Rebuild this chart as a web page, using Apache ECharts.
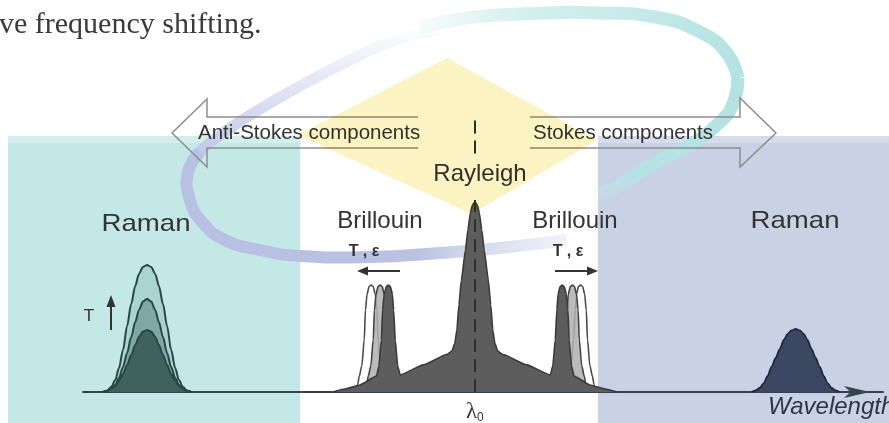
<!DOCTYPE html>
<html>
<head>
<meta charset="utf-8">
<script src="https://cdn.jsdelivr.net/npm/echarts@6/dist/echarts.min.js"></script>
<style>
  html, body { margin: 0; padding: 0; background: #ffffff; }
  #chart { width: 889px; height: 423px; }
</style>
</head>
<body>
<div id="chart"></div>
<script>
// Back-scattered spectrum around the launched wavelength λ0.
// x: wavelength offset from λ0 (arbitrary units), y: relative intensity (Rayleigh peak = 100).

// Rayleigh line with its broad pedestal and the innermost Brillouin lines
const rayleighX = [-34.8,-31.9,-28.2,-24.1,-23.5,-22.9,-22.6,-22.2,-21.7,-21.2,-20.7,-20.2,-19.9,-19.5,-18.9,-18.3,-12.6,
  -6.9,-5.6,-4.9,-4.4,-3.9,-3.3,-2.3,-1.7,-1.1,-0.6,0,0.6,1.1,1.7,2.3,3.3,3.9,4.4,4.9,5.6,6.9,
  12.7,18.5,19.1,19.7,20.1,20.4,20.9,21.4,21.9,22.4,22.8,23.1,23.7,24.3,28.2,31.9,34.8];
const rayleighY = [0,1.6,3.7,8.4,13.7,27.4,43.2,51.6,55.5,56.3,55.5,51.6,43.2,27.4,13.7,9.0,14.3,
  19.7,21.6,25.8,32.6,45.8,58.9,74.7,85.3,94.2,98.4,100,98.4,94.2,85.3,74.7,58.9,45.8,32.6,25.8,21.6,19.7,
  14.3,9.0,13.7,27.4,43.2,51.6,55.5,56.3,55.5,51.6,43.2,27.4,13.7,8.4,3.7,1.6,0];

// Brillouin lines shifted with temperature / strain (same profile, shifted centres)
const brillouinY = [0,4,8.4,13.7,27.4,43.2,51.6,55.5,56.3,55.5,51.6,43.2,27.4,13.7,8.4,4,0];
const brillouinAntiStokesMidX = [-26.7,-26.5,-26.1,-25.5,-24.9,-24.6,-24.2,-23.7,-23.2,-22.7,-22.2,-21.9,-21.5,-20.9,-20.3,-19.9,-19.7];
const brillouinAntiStokesFarX = [-28.9,-28.7,-28.3,-27.7,-27.1,-26.8,-26.4,-25.9,-25.4,-24.9,-24.4,-24.0,-23.7,-23.1,-22.5,-22.1,-21.9];
const brillouinStokesMidX = [20.4,20.6,21.0,21.6,22.2,22.6,22.9,23.4,23.9,24.4,24.9,25.3,25.6,26.2,26.8,27.2,27.4];
const brillouinStokesFarX = [22.4,22.6,23.0,23.6,24.2,24.6,24.9,25.4,25.9,26.4,26.9,27.3,27.6,28.2,28.8,29.2,29.4];

// Anti-Stokes Raman band at three temperatures
const ramanAntiStokesX = [-91.1,-90.1,-89.1,-88.1,-87.2,-86.2,-85.2,-84.2,-83.2,-82.3,-81.3,-80.3,
  -79.3,-78.3,-77.4,-76.4,-75.4,-74.4,-73.4,-72.5,-71.5,-70.5,-69.5];
const ramanAntiStokesHot  = [0,0.8,2.6,6.3,12.6,22.1,34.7,46.3,55.8,62.1,65.8,66.8,65.8,62.1,55.8,46.3,34.7,22.1,12.6,6.3,2.6,0.8,0];
const ramanAntiStokesWarm = [0,0.5,1.6,3.7,7.4,13.2,20.5,28.9,36.8,43.2,47.6,48.9,47.6,43.2,36.8,28.9,20.5,13.2,7.4,3.7,1.6,0.5,0];
const ramanAntiStokesCool = [0,0.5,1.6,3.2,5.8,9.5,14.2,19.5,24.7,29.0,31.8,32.6,31.8,29.0,24.7,19.5,14.2,9.5,5.8,3.2,1.6,0.5,0];

// Stokes Raman band
const ramanStokesX = [67.8,68.8,69.8,70.8,71.7,72.7,73.7,74.7,75.7,76.6,77.6,78.6,79.6,80.6,81.5,82.5,83.5,84.5,85.5,86.4,87.4,88.4,89.4];
const ramanStokesY = [0,0.8,2.1,4.7,8.4,13.2,17.9,22.6,27.4,30.5,32.4,33.2,32.4,30.5,27.4,22.6,17.9,13.2,8.4,4.7,2.1,0.8,0];

// Axis
const xMin = -96, xMax = 100, yMin = 0, yMax = 145;
const lambdaTicks = [0];

const SANS = "'Liberation Sans', Arial, sans-serif";
const TXT = '#333333';

function pairs(xs, ys) { return xs.map((x, i) => [x, ys[i]]); }
function peak(name, xs, ys, fill, stroke, z, width, smooth) {
  return {
    name, type: 'line', data: pairs(xs, ys), symbol: 'none', silent: true,
    smooth: smooth == null ? 0.3 : smooth, smoothMonotone: 'x', z,
    lineStyle: { color: stroke, width: width || 1.6 },
    areaStyle: { color: fill, opacity: 1 }
  };
}

const chart = echarts.init(document.getElementById('chart'), null, { renderer: 'canvas' });

// decorative ring, drawn as soft arcs
function arc(points, color, width) {
  return { type: 'polyline', z: -2, silent: true,
    shape: { points, smooth: 0.5 },
    style: { stroke: color, lineWidth: width, fill: null } };
}
function grad(x1, y1, x2, y2, stops) {
  return new echarts.graphic.LinearGradient(x1, y1, x2, y2, stops.map(s => ({ offset: s[0], color: s[1] })), true);
}
function label(text, x, y, size, opts) {
  return Object.assign({ type: 'text', z: 31, silent: true, x, y,
    style: { text, font: size + 'px ' + SANS, fill: TXT, align: 'center', verticalAlign: 'middle' } }, opts || {});
}

const graphics = [
  // shaded half-planes
  { type: 'rect', z: -5, silent: true, shape: { x: 8, y: 136, width: 292, height: 287 }, style: { fill: '#c4e8e6' } },
  { type: 'rect', z: -5, silent: true, shape: { x: 8, y: 136, width: 292, height: 7 }, style: { fill: '#d3eeec' } },
  { type: 'rect', z: -5, silent: true, shape: { x: 598, y: 136, width: 291, height: 287 }, style: { fill: '#c9d1e5' } },
  { type: 'rect', z: -5, silent: true, shape: { x: 598, y: 136, width: 291, height: 7 }, style: { fill: '#d6dcea' } },

  // ring
  arc([[440,30],[395,40],[350,60],[300,86],[255,112],[222,134],[200,152],[188,172]],
      grad(0, 30, 0, 172, [[0,'rgba(215,220,242,0.05)'],[0.3,'rgba(215,220,242,0.6)'],[0.7,'#cdd2ec'],[1,'#b8c0e3']]), 11),
  arc([[200,152],[188,172],[190,200],[202,222],[225,240],[260,250],[300,256],[370,257],[440,253],[500,248],[567,240]],
      grad(188, 0, 567, 0, [[0,'#b8c0e3'],[0.6,'#bac2e3'],[1,'rgba(205,214,236,0.3)']]), 12),
  arc([[420,28],[460,19],[520,14],[600,13],[660,18],[700,32],[726,52],[738,78]],
      grad(420, 0, 738, 0, [[0,'rgba(205,236,236,0.15)'],[0.35,'#d3efef'],[0.7,'#c6e9e9'],[1,'#b4e2e2']]), 13),
  arc([[738,78],[733,104],[720,122],[690,145],[655,163],[623,183],[600,196]],
      grad(0, 78, 0, 196, [[0,'#b4e2e2'],[0.8,'#b6e2e3'],[1,'rgba(190,230,230,0.3)']]), 13),

  // outlined direction arrows
  { type: 'polyline', z: 30, silent: true,
    shape: { points: [[418,117],[207,117],[207,99],[172,133],[207,167],[207,148],[418,148]] },
    style: { stroke: '#8d8d8d', lineWidth: 1.5, fill: null } },
  { type: 'polyline', z: 30, silent: true,
    shape: { points: [[530,117],[740,117],[740,98],[776,133],[740,167],[740,148],[530,148]] },
    style: { stroke: '#8d8d8d', lineWidth: 1.5, fill: null } },
  label('Anti-Stokes components', 198, 133, 20.5, { style: { text: 'Anti-Stokes components', font: '20.5px ' + SANS, fill: TXT, align: 'left', verticalAlign: 'middle' } }),
  label('Stokes components', 533, 133, 20.5, { style: { text: 'Stokes components', font: '20.5px ' + SANS, fill: TXT, align: 'left', verticalAlign: 'middle' } }),

  // peak names
  label('Rayleigh', 480, 174, 24),
  label('Raman', 146, 224, 24, { scaleX: 1.15 }),
  label('Raman', 795, 221, 24, { scaleX: 1.15 }),
  label('Brillouin', 380, 221, 24),
  label('Brillouin', 575, 221, 24),

  // temperature / strain shift markers
  label('T , ε', 364, 252, 16, { style: { text: 'T , ε', font: 'bold 16px ' + SANS, fill: TXT, align: 'center', verticalAlign: 'middle' } }),
  label('T , ε', 568, 252, 16, { style: { text: 'T , ε', font: 'bold 16px ' + SANS, fill: TXT, align: 'center', verticalAlign: 'middle' } }),
  { type: 'line', z: 31, silent: true, shape: { x1: 400, y1: 271, x2: 366, y2: 271 }, style: { stroke: TXT, lineWidth: 2 } },
  { type: 'polygon', z: 31, silent: true, shape: { points: [[357,271],[368,266.5],[368,275.5]] }, style: { fill: TXT } },
  { type: 'line', z: 31, silent: true, shape: { x1: 555, y1: 271, x2: 589, y2: 271 }, style: { stroke: TXT, lineWidth: 2 } },
  { type: 'polygon', z: 31, silent: true, shape: { points: [[598,271],[587,266.5],[587,275.5]] }, style: { fill: TXT } },
  label('T', 89, 316, 17),
  { type: 'line', z: 31, silent: true, shape: { x1: 111, y1: 330, x2: 111, y2: 305 }, style: { stroke: TXT, lineWidth: 2 } },
  { type: 'polygon', z: 31, silent: true, shape: { points: [[111,295],[106.5,307],[115.5,307]] }, style: { fill: TXT } },

  // running text above the figure
  { type: 'text', z: 31, silent: true, x: -1, y: 25,
    style: { text: 've frequency shifting.', font: '30px "Liberation Serif", "Times New Roman", serif', fill: '#3a3a3a', align: 'left', verticalAlign: 'middle' } },

  // translucent diamond
  { type: 'polygon', z: 60, silent: true,
    shape: { points: [[447,58],[597,140],[472,214],[298,135]] },
    style: { fill: '#fcf3c3', blend: 'multiply' } }
];

chart.setOption({
  animation: false,
  backgroundColor: '#ffffff',
  grid: { left: 83, right: 6, top: 116.5, bottom: 31, containLabel: false, outerBoundsMode: 'none' },
  xAxis: {
    type: 'value', min: xMin, max: xMax,
    name: 'Wavelength', nameLocation: 'end', nameGap: -115,
    nameTextStyle: { fontFamily: SANS, fontStyle: 'italic', fontSize: 24, color: '#2c3448', align: 'left', verticalAlign: 'top', padding: [3, 0, 0, 0] },
    axisLine: { show: true, lineStyle: { color: '#34444e', width: 2 }, symbol: ['none', 'arrow'], symbolSize: [9, 26], symbolOffset: [0, -13] },
    axisTick: { show: false },
    splitLine: { show: false },
    axisLabel: {
      customValues: lambdaTicks, margin: 8,
      formatter: () => '{l|λ}{s|0}',
      rich: {
        l: { fontFamily: '"Liberation Serif", serif', fontSize: 23, color: TXT },
        s: { fontFamily: SANS, fontSize: 12, color: TXT, padding: [12, 0, 0, 0] }
      }
    }
  },
  yAxis: { type: 'value', min: yMin, max: yMax, show: false },
  graphic: { elements: graphics },
  series: [
    peak('Brillouin anti-Stokes (far)', brillouinAntiStokesFarX, brillouinY, '#ffffff', '#4a4a4a', 2),
    peak('Brillouin Stokes (far)', brillouinStokesFarX, brillouinY, '#ffffff', '#4a4a4a', 2),
    peak('Brillouin anti-Stokes (mid)', brillouinAntiStokesMidX, brillouinY, 'rgba(175,175,175,0.85)', '#444444', 3),
    peak('Brillouin Stokes (mid)', brillouinStokesMidX, brillouinY, 'rgba(175,175,175,0.85)', '#444444', 3),
    Object.assign(peak('Rayleigh', rayleighX, rayleighY, '#5d5d5d', '#3a3a3a', 4, 1.6, 0.15), {
      markLine: {
        silent: true, symbol: 'none', label: { show: false },
        lineStyle: { color: '#2e2e2e', type: [13, 7], width: 2 },
        data: [
          [{ coord: [0, 0] }, { coord: [0, 101] }],
          [{ coord: [0, 125.5] }, { coord: [0, 144.5] }]
        ]
      }
    }),
    peak('Raman anti-Stokes (hot)', ramanAntiStokesX, ramanAntiStokesHot, '#abd4d1', '#284644', 5, 2),
    peak('Raman anti-Stokes (warm)', ramanAntiStokesX, ramanAntiStokesWarm, '#7fa7a3', '#284644', 6, 2),
    peak('Raman anti-Stokes (cool)', ramanAntiStokesX, ramanAntiStokesCool, '#3f625f', '#284644', 7, 2),
    peak('Raman Stokes', ramanStokesX, ramanStokesY, '#3c4762', '#1f283b', 5, 1.8)
  ]
});
</script>
</body>
</html>
